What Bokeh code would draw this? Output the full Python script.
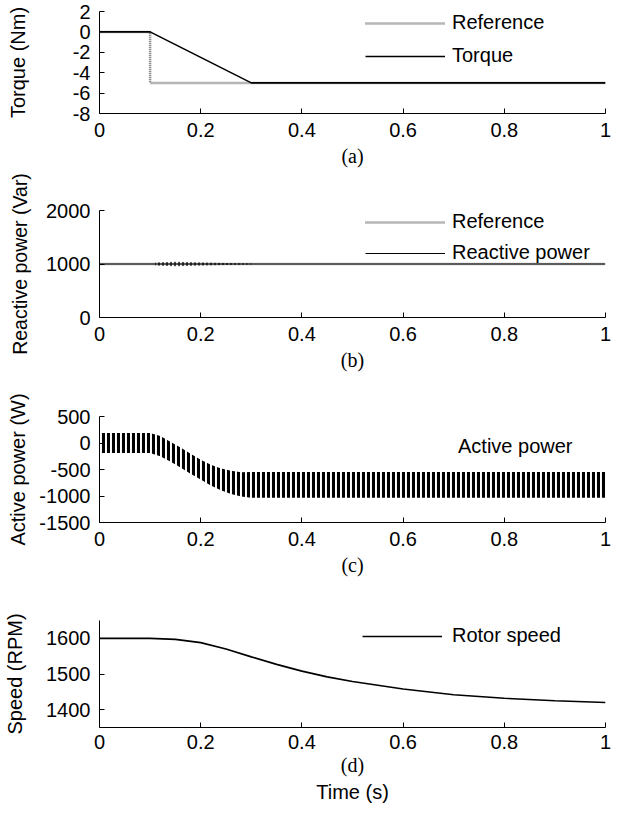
from bokeh.plotting import figure
from bokeh.models import FixedTicker, Legend, LegendItem, Title, Range1d
from bokeh.layouts import column
from bokeh.embed import file_html
from bokeh.resources import INLINE

# ---------------- data ----------------
time_ticks = [0, 0.2, 0.4, 0.6, 0.8, 1.0]
time_tick_labels = ["0", "0.2", "0.4", "0.6", "0.8", "1"]

# (a) torque
torque_ref_t = [0, 0.1, 0.1, 1.0]
torque_ref = [0, 0, -5, -5]
torque_t = [0, 0.1, 0.3, 1.0]
torque = [0, 0, -5, -5]
torque_ticks = [-8, -6, -4, -2, 0, 2]

# (b) reactive power
q_t = [0, 1.0]
q_ref = [1000, 1000]
q_val = [1000, 1000]
q_ripple_t = [0.11, 0.15, 0.2, 0.25, 0.3]
q_ripple_hi = [1030, 1040, 1030, 1018, 1010]
q_ripple_lo = [970, 960, 970, 982, 990]
q_ticks = [0, 1000, 2000]

# (c) active power (envelope of the ripple)
p_t = [0, 0.1, 0.12, 0.14, 0.16, 0.18, 0.2, 0.22, 0.24, 0.26, 0.28, 0.3, 1.0]
p_upper = [190, 190, 130, 25, -85, -205, -315, -410, -480, -525, -550, -545, -545]
p_lower = [-190, -190, -250, -350, -460, -580, -690, -800, -890, -960, -1010, -1035, -1035]
p_ticks = [-1500, -1000, -500, 0, 500]

# (d) rotor speed
s_t = [0, 0.1, 0.15, 0.2, 0.25, 0.3, 0.35, 0.4, 0.45, 0.5, 0.6, 0.7, 0.8, 0.9, 1.0]
speed = [1600, 1600, 1597, 1588, 1570, 1548, 1527, 1508, 1492, 1479, 1458, 1442, 1432, 1425, 1420]
s_ticks = [1400, 1500, 1600]

SANS = "Liberation Sans"
SERIF = "Liberation Serif"
FS = "20px"


def make_fig(height, top, bottom, yr, yticks, ylabel, ylab_std, caption,
             x_std=9, cap_std=5, ylab_fs=FS):
    p = figure(width=613, height=height, x_range=Range1d(0, 1),
               y_range=Range1d(*yr), output_backend="svg",
               toolbar_location=None, min_border_left=99, min_border_right=8,
               min_border_top=top, min_border_bottom=bottom)
    p.grid.visible = False
    p.outline_line_color = None
    p.background_fill_color = "white"
    for ax in (p.xaxis[0], p.yaxis[0]):
        ax.major_tick_in = 5
        ax.major_tick_out = 0
        ax.minor_tick_line_color = None
        ax.axis_line_color = "black"
        ax.major_tick_line_color = "black"
        ax.major_label_text_font = SANS
        ax.major_label_text_font_size = FS
        ax.major_label_text_color = "black"
        ax.axis_label_text_font_style = "normal"
        ax.axis_label_text_color = "black"
    p.xaxis.ticker = FixedTicker(ticks=time_ticks)
    p.xaxis.major_label_overrides = {t: l for t, l in zip(time_ticks, time_tick_labels)}
    p.xaxis.major_label_standoff = x_std
    p.xaxis.axis_label = caption
    p.xaxis.axis_label_text_font = SERIF
    p.xaxis.axis_label_text_font_size = FS
    p.xaxis.axis_label_standoff = cap_std
    p.yaxis.ticker = FixedTicker(ticks=yticks)
    p.yaxis.major_label_overrides = {t: str(t) for t in yticks}
    p.yaxis.major_label_standoff = 9
    p.yaxis.axis_label = ylabel
    p.yaxis.axis_label_text_font = SANS
    p.yaxis.axis_label_text_font_size = ylab_fs
    p.yaxis.axis_label_standoff = ylab_std
    return p


def add_legend(p, items, loc, glyph_width=80, standoff=7, spacing=10):
    leg = Legend(items=items, location=loc, border_line_color=None,
                 background_fill_alpha=0, padding=0, margin=0, spacing=spacing,
                 glyph_width=glyph_width, glyph_height=22, label_height=22,
                 label_standoff=standoff, label_text_font=SANS,
                 label_text_font_size=FS, label_text_color="black")
    p.add_layout(leg)


REF_COLOR = "#6e6e6e"

# (a)  page: frame 19-121
pa = make_fig(171, 11, 58, (-8, 2), torque_ticks, "Torque (Nm)", 41, "(a)")
ra = pa.line(torque_ref_t, torque_ref, line_color=REF_COLOR, line_width=2.5, line_dash="1 1")
ta = pa.line(torque_t, torque, line_color="black", line_width=1.6)
add_legend(pa, [LegendItem(label="Reference", renderers=[ra]),
                LegendItem(label="Torque", renderers=[ta])], (266, 46))

# (b)  page: fig 179-392, frame 218-325
pb = make_fig(213, 39, 67, (0, 2000), q_ticks, "Reactive power (Var)", 12, "(b)",
              ylab_fs="19.5px")
rb = pb.line(q_t, q_ref, line_color=REF_COLOR, line_width=2.5, line_dash="1 1")
qb = pb.line(q_t, q_val, line_color="black", line_width=1.2)
pb.varea(x=q_ripple_t, y1=q_ripple_lo, y2=q_ripple_hi, fill_alpha=0,
         hatch_pattern="vertical_line", hatch_color="black", hatch_weight=1.3,
         hatch_scale=4)
add_legend(pb, [LegendItem(label="Reference", renderers=[rb]),
                LegendItem(label="Reactive power", renderers=[qb])], (266, 53),
           spacing=8)

# (c)  page: fig 392-600, frame 424-530
pc = make_fig(208, 32, 70, (-1500, 500), p_ticks, "Active power (W)", 7, "(c)")
pc.varea(x=p_t, y1=p_lower, y2=p_upper, fill_alpha=0,
         hatch_pattern="vertical_line", hatch_color="black", hatch_weight=3.1,
         hatch_scale=5)
lc = pc.line(x=[], y=[], line_color="black", line_width=1.5)
add_legend(pc, [LegendItem(label="Active power", renderers=[lc])], (279, 64),
           glyph_width=72, standoff=8)

# (d)  page: fig 600-815, frame 628-735
pd_ = make_fig(215, 28, 80, (1350, 1650), s_ticks, "Speed (RPM)", 17, "(d)",
               x_std=7, cap_std=2)
sd = pd_.line(s_t, speed, line_color="black", line_width=1.6)
add_legend(pd_, [LegendItem(label="Rotor speed", renderers=[sd])], (263, 80),
           glyph_width=80, standoff=10)
pd_.add_layout(Title(text="Time (s)", align="center", standoff=0,
                     text_font=SANS, text_font_size=FS, text_font_style="normal",
                     text_color="black"), "below")

layout = column(pa, pb, pc, pd_, spacing=0)
open("out.html", "w").write(file_html(layout, INLINE))
